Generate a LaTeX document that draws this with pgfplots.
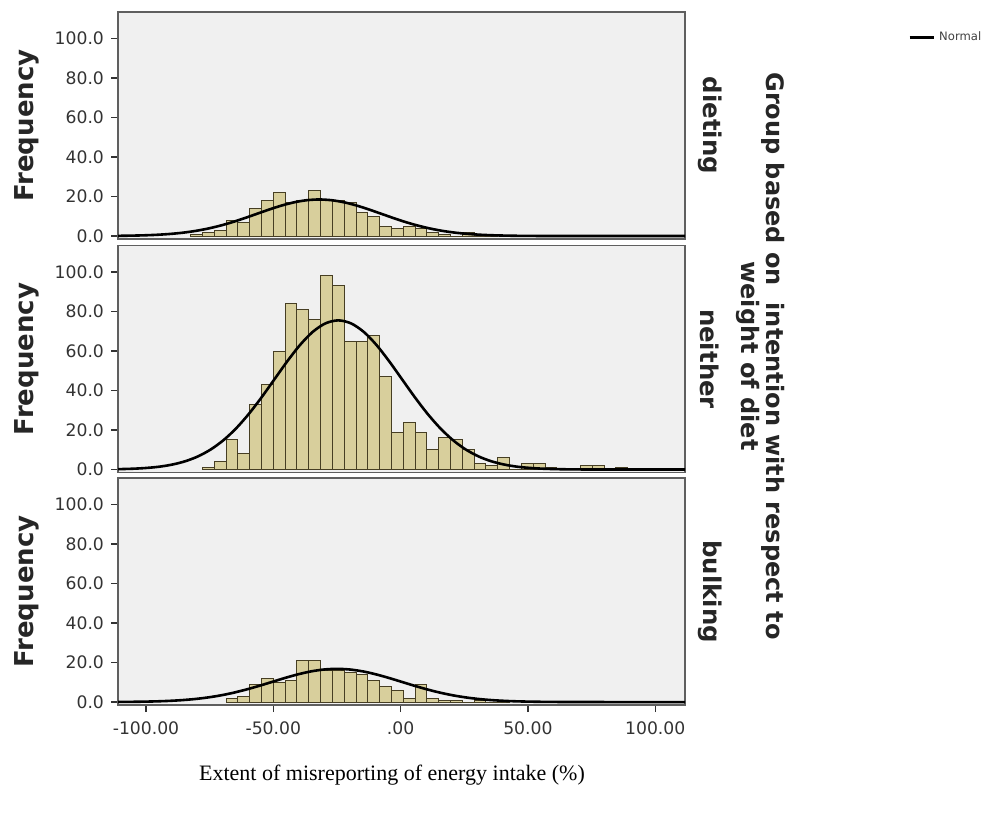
\documentclass[border=0pt]{standalone}
\usepackage{fontspec}
\setmainfont{DejaVu Sans}
\newfontfamily\seriffont{Liberation Serif}
\usepackage{pgfplots}
\pgfplotsset{compat=1.18}
\definecolor{barfill}{RGB}{216,207,156}
\definecolor{baredge}{RGB}{70,62,35}
\definecolor{panelbg}{RGB}{240,240,240}
\definecolor{framec}{RGB}{95,95,95}
\pgfplotsset{panel/.style={
  scale only axis, width=283.5pt, height=113.5pt,
  xmin=-111, xmax=111.7, ymin=-1.5, ymax=113.4,
  axis background/.style={fill=panelbg},
  axis line style={draw=framec, line width=0.8pt},
  ytick={0,20,40,60,80,100},
  yticklabels={0.0,20.0,40.0,60.0,80.0,100.0},
  ytick pos=left, tick align=outside,
  major tick length=3.5pt,
  tick style={draw=black!80, line width=0.6pt},
  tick label style={font=\fontsize{8.6}{10}\selectfont, text=black!80},
  xtick=\empty,
  anchor=north west,
},
bars/.style={ybar interval, fill=barfill, draw=baredge, line width=0.5pt, forget plot},
curve/.style={black, line width=1.3pt, smooth}
}
\begin{document}
\begin{tikzpicture}
\useasboundingbox (0,0) rectangle (494.5pt,408pt);
% top panel: dieting
\begin{axis}[panel, at={(59pt,402pt)},
  legend style={at={(1.393,0.886)}, anchor=west, draw=none, fill=none,
    font=\fontsize{5.8}{6}\selectfont, text=black!75, inner sep=0pt},
  legend image code/.code={\draw[line width=1.5pt] (0pt,0pt) -- (12pt,0pt);}]
\addplot[bars] coordinates {(-82.48,1) (-77.84,2) (-73.2,3) (-68.56,8) (-63.92,7) (-59.28,14) (-54.64,18) (-50,22) (-45.36,17) (-40.72,18) (-36.08,23) (-31.44,18) (-26.8,18) (-22.16,17) (-17.52,12) (-12.88,10) (-8.24,5) (-3.6,4) (1.04,5) (5.68,4) (10.32,2) (14.96,1) (19.6,0) (24.24,2) (28.88,0) (33.52,1) (38.16,0)};
\addplot[curve] coordinates {(-111,0.1) (-105.5,0.21) (-100.6,0.37) (-95.7,0.63) (-90.8,1.04) (-85.9,1.64) (-81.0,2.50) (-76.1,3.66) (-71.2,5.14) (-66.3,6.94) (-61.4,9.01) (-56.5,11.22) (-51.6,13.43) (-46.7,15.45) (-41.8,17.08) (-36.9,18.13) (-32,18.5) (-27.1,18.13) (-22.2,17.08) (-17.3,15.45) (-12.4,13.43) (-7.5,11.22) (-2.6,9.01) (2.3,6.94) (7.2,5.14) (12.1,3.66) (17.0,2.50) (21.9,1.64) (26.8,1.04) (31.7,0.63) (36.6,0.37) (41.5,0.21) (46.4,0.11) (51.3,0.06) (56.2,0.03) (66,0.01) (80,0) (111.7,0)};
\addlegendentry{Normal}
\end{axis}
% middle panel: neither
\begin{axis}[panel, at={(59pt,285.25pt)}]
\addplot[bars] coordinates {(-77.84,1) (-73.2,4) (-68.56,15) (-63.92,8) (-59.28,33) (-54.64,43) (-50,60) (-45.36,84) (-40.72,81) (-36.08,76) (-31.44,98) (-26.8,93) (-22.16,65) (-17.52,65) (-12.88,68) (-8.24,47) (-3.6,19) (1.04,24) (5.68,19) (10.32,10) (14.96,16) (19.6,15) (24.24,10) (28.88,3) (33.52,2) (38.16,6) (42.8,0) (47.44,3) (52.08,3) (56.72,1) (61.36,0) (66,0) (70.64,2) (75.28,2) (79.92,0) (84.56,1) (89.2,0)};
\addplot[curve] coordinates {(-111,0.19) (-104.5,0.45) (-99.5,0.84) (-94.5,1.49) (-89.5,2.57) (-84.5,4.24) (-79.5,6.71) (-74.5,10.22) (-69.5,14.94) (-64.5,20.99) (-59.5,28.34) (-54.5,36.75) (-49.5,45.79) (-44.5,54.82) (-39.5,63.07) (-34.5,69.7) (-29.5,74.0) (-24.5,75.5) (-19.5,74.0) (-14.5,69.7) (-9.5,63.07) (-4.5,54.82) (0.5,45.79) (5.5,36.75) (10.5,28.34) (15.5,20.99) (20.5,14.94) (25.5,10.22) (30.5,6.71) (35.5,4.24) (40.5,2.57) (45.5,1.49) (50.5,0.84) (55.5,0.45) (60.5,0.23) (65.5,0.11) (70.5,0.05) (75.5,0.02) (85,0) (111.7,0)};
\end{axis}
% bottom panel: bulking
\begin{axis}[panel, at={(59pt,169pt)},
  xtick={-100,-50,0,50,100},
  xticklabels={-100.00,-50.00,.00,50.00,100.00},
  xtick pos=bottom,
  xticklabel style={yshift=-1.5pt}]
\addplot[bars] coordinates {(-68.56,2) (-63.92,3) (-59.28,9) (-54.64,12) (-50,10) (-45.36,11) (-40.72,21) (-36.08,21) (-31.44,16) (-26.8,16) (-22.16,15) (-17.52,14) (-12.88,11) (-8.24,8) (-3.6,6) (1.04,2) (5.68,9) (10.32,2) (14.96,1) (19.6,1) (24.24,0) (28.88,1) (33.52,0) (38.16,1) (42.8,0)};
\addplot[curve] coordinates {(-111,0.06) (-106.6,0.10) (-101.5,0.19) (-96.4,0.33) (-91.3,0.57) (-86.2,0.94) (-81.1,1.49) (-76.0,2.27) (-70.9,3.32) (-65.8,4.67) (-60.7,6.31) (-55.6,8.18) (-50.5,10.19) (-45.4,12.20) (-40.3,14.03) (-35.2,15.51) (-30.1,16.47) (-25,16.8) (-19.9,16.47) (-14.8,15.51) (-9.7,14.03) (-4.6,12.20) (0.5,10.19) (5.6,8.18) (10.7,6.31) (15.8,4.67) (20.9,3.32) (26.0,2.27) (31.1,1.49) (36.2,0.94) (41.3,0.57) (46.4,0.33) (51.5,0.19) (56.6,0.10) (61.7,0.05) (66.8,0.03) (80,0) (111.7,0)};
\end{axis}
% labels
\foreach \yy in {345.25,228.5,112.25}{
  \node[rotate=90, font=\bfseries\fontsize{13}{14}\selectfont, text=black!85] at (13.5pt,\yy pt) {Frequency};
}
\node[rotate=-90, font=\bfseries\fontsize{12.2}{14}\selectfont, text=black!85] at (355pt,345.25pt) {dieting};
\node[rotate=-90, font=\bfseries\fontsize{12.2}{14}\selectfont, text=black!85] at (355pt,228.5pt) {neither};
\node[rotate=-90, font=\bfseries\fontsize{12.2}{14}\selectfont, text=black!85] at (355pt,112.25pt) {bulking};
\node[rotate=-90, align=center, font=\bfseries\fontsize{12}{12.5}\selectfont, text=black!85] at (380.25pt,230pt) {Group based on\ \ intention with respect to\\weight of diet};
\node[font=\seriffont\fontsize{11}{13}\selectfont] at (196pt,20.5pt) {Extent of misreporting of energy intake (\%)};
\end{tikzpicture}
\end{document}
